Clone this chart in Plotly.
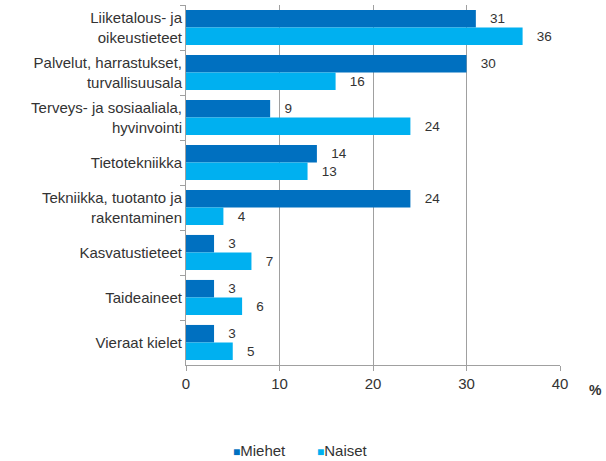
import plotly.graph_objects as go

categories = [
    "Liiketalous- ja<br>oikeustieteet",
    "Palvelut, harrastukset,<br>turvallisuusala",
    "Terveys- ja sosiaaliala,<br>hyvinvointi",
    "Tietotekniikka",
    "Tekniikka, tuotanto ja<br>rakentaminen",
    "Kasvatustieteet",
    "Taideaineet",
    "Vieraat kielet",
]
miehet = [31, 30, 9, 14, 24, 3, 3, 3]
naiset = [36, 16, 24, 13, 4, 7, 6, 5]
x_ticks = [0, 10, 20, 30, 40]
series_names = ["Miehet", "Naiset"]
colors = ["#0070C0", "#00B0F0"]

FONT = "Liberation Sans, Arial, sans-serif"
TXT = "#333333"

fig = go.Figure()
for name, vals, col in zip(series_names, [miehet, naiset], colors):
    fig.add_trace(go.Bar(
        y=categories, x=vals, orientation="h", name=name,
        marker=dict(color=col, line=dict(width=0)),
        text=vals, texttemplate="   %{x}", textposition="outside",
        textfont=dict(size=13.5, color=TXT, family=FONT), cliponaxis=False,
        showlegend=False,
    ))

fig.update_layout(
    width=606, height=461,
    margin=dict(l=186, r=46, t=5, b=96),
    paper_bgcolor="white", plot_bgcolor="white",
    barmode="group", bargap=0.22, bargroupgap=0,
    font=dict(family=FONT, size=15, color=TXT),
)
fig.update_xaxes(
    range=[0, 40], tickvals=x_ticks, ticktext=[str(v) for v in x_ticks],
    showgrid=True, gridcolor="#A0A0A0", gridwidth=1,
    showline=True, linecolor="#A0A0A0", linewidth=1,
    ticks="outside", ticklen=5, tickcolor="#A0A0A0",
    tickfont=dict(size=15, color=TXT), zeroline=False, automargin=False,
)
fig.update_yaxes(
    autorange="reversed", showgrid=False,
    showline=True, linecolor="#A0A0A0", linewidth=1,
    ticks="outside", ticklen=5, tickcolor="#A0A0A0", tickson="boundaries",
    tickfont=dict(size=15, color=TXT), automargin=False,
)
fig.add_annotation(text="<b>%</b>", xref="paper", yref="paper", x=1.094, y=-0.07,
                   xanchor="center", yanchor="middle", showarrow=False,
                   font=dict(size=14, color=TXT))

# legend (compact, as in the reference)
legend_x = [231, 315]
for name, col, px in zip(series_names, colors, legend_x):
    fig.add_annotation(
        text=f"<span style='color:{col};font-size:12px'>■</span>{name}",
        xref="paper", yref="paper", x=(px - 186) / 374, y=(365 - 450) / 360,
        xanchor="left", yanchor="middle", showarrow=False,
        font=dict(size=15, color=TXT),
    )

fig.write_html("out.html", config={"displayModeBar": False},
               post_script="document.body.style.margin='0';")
